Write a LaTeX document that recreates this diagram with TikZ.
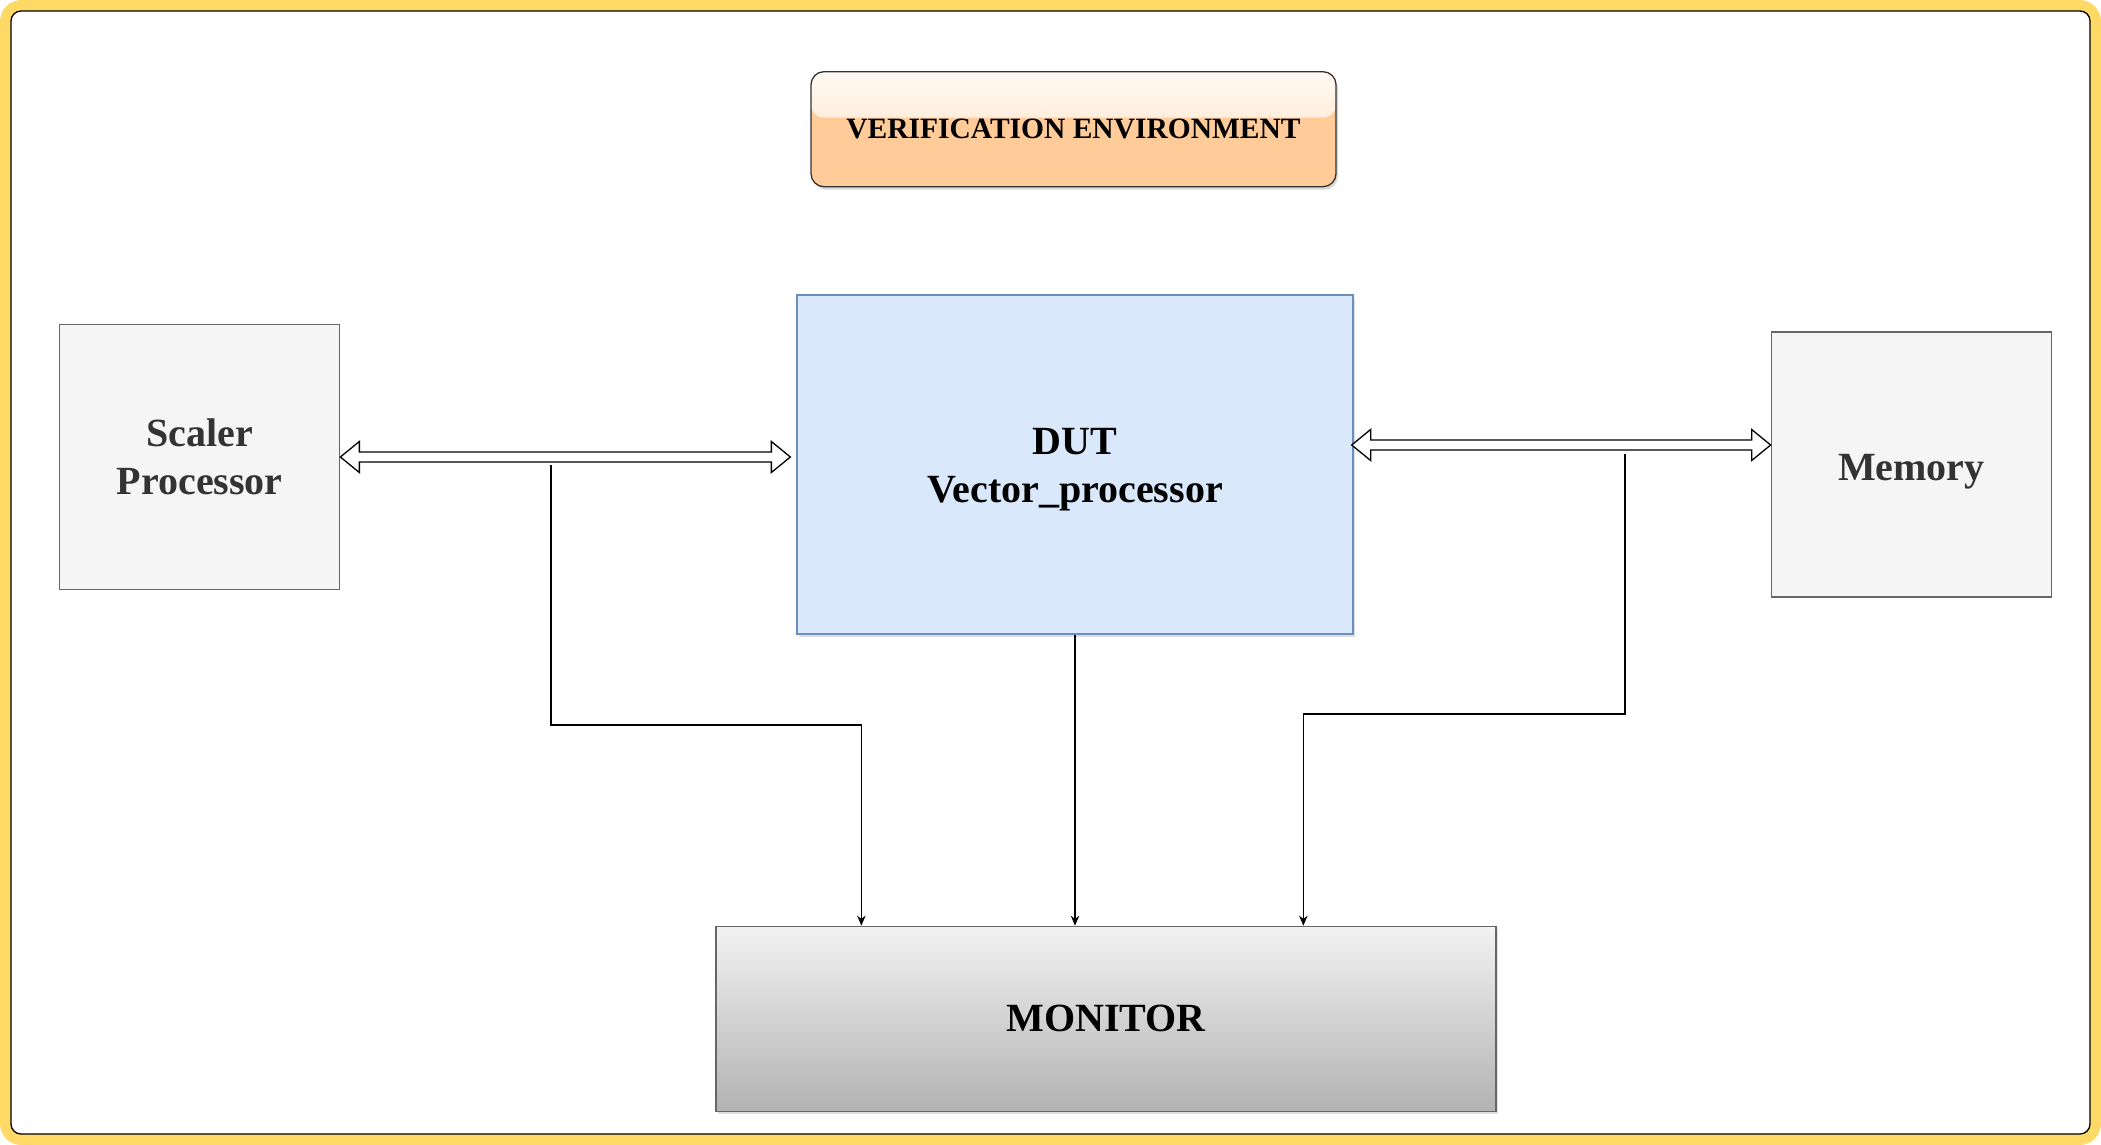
\documentclass[tikz,border=0pt]{standalone}
\usepackage{fontspec}
\setmainfont{Liberation Serif}
\usetikzlibrary{positioning,arrows.meta,shadows,calc}

\definecolor{frameyellow}{HTML}{FFD966}
\definecolor{boxgray}{HTML}{F5F5F5}
\definecolor{boxline}{HTML}{666666}
\definecolor{dutblue}{HTML}{DAE8FC}
\definecolor{dutline}{HTML}{6C8EBF}
\definecolor{titleorange}{HTML}{FFCC99}
\definecolor{textgray}{HTML}{333333}

\newcommand{\blockfont}{\fontsize{40}{48}\selectfont\bfseries}
\newcommand{\bannerfont}{\fontsize{29.5}{34}\selectfont\bfseries}

% two-headed hollow arrow between two points at the same height
\newcommand{\busarrow}[2]{%
  \draw[bus] let \p1=(#1), \p2=(#2) in
    (\x1,\y1) -- ++(19pt,15.5pt) -- ++(0,-10.5pt) -- (\x2-19pt,\y1+5pt)
    -- ++(0,10.5pt) -- (\x2,\y1) -- ++(-19pt,-15.5pt) -- ++(0,10.5pt)
    -- (\x1+19pt,\y1-5pt) -- ++(0,-10.5pt) -- cycle;}

\tikzset{
  frameband/.style={draw=frameyellow, line width=11pt, rounded corners=16pt},
  frameline/.style={draw=black, line width=1.3pt, rounded corners=10pt},
  sidebox/.style={draw=boxline, fill=boxgray, line width=1.3pt, inner sep=0pt,
    minimum width=280pt, minimum height=265pt, align=center,
    text=textgray, font=\blockfont},
  dutbox/.style={draw=dutline, fill=dutblue, line width=1.3pt, inner sep=0pt,
    minimum width=556pt, minimum height=339pt, align=center, font=\blockfont,
    drop shadow={shadow xshift=2pt, shadow yshift=-3pt, opacity=0.25}},
  monbox/.style={draw=boxline, top color=black!5, bottom color=black!30,
    line width=1.3pt, inner sep=0pt, minimum width=780pt, minimum height=185pt,
    font=\blockfont,
    drop shadow={shadow xshift=2pt, shadow yshift=-3pt, opacity=0.25}},
  titlebox/.style={draw=black!80, fill=titleorange, line width=1.3pt,
    rounded corners=13pt, inner sep=0pt, minimum width=525pt,
    minimum height=115pt, font=\bannerfont,
    drop shadow={shadow xshift=2pt, shadow yshift=-3pt, opacity=0.3},
    path picture={\fill[top color=titleorange!12!white,
        bottom color=titleorange!65!white]
      (path picture bounding box.north west) rectangle
      ($(path picture bounding box.east)+(0,-11.5)$);}},
  bus/.style={draw=black, fill=white, line width=1.3pt, line join=miter},
  feed/.style={draw=black, line width=1.3pt, -{Stealth[length=10pt,width=8.5pt]}},
}

\begin{document}
\begin{tikzpicture}[x=1pt, y=-1pt]
  \useasboundingbox (0,0) rectangle (2101,1145);
  \draw[frameband] (5.5,5.5) rectangle (2095.5,1139.5);
  \draw[frameline] (11,11) rectangle (2090,1134);

  \node[dutbox]   (dut)     at (1075,464.5)                     {\rule{0pt}{36.5pt}DUT\\Vector\_processor};
  \node[sidebox]  (scaler)  [left=456pt of dut, yshift=7.5pt]   {Scaler\\Processor};
  \node[sidebox, text height=32pt, text depth=0pt]
                  (memory)  [right=417pt of dut]                {Memory};
  \node[monbox]   (monitor) [below=291pt of dut, xshift=31pt]   {MONITOR};
  \node[titlebox] (title)   [above=107pt of dut, xshift=-1.5pt] {VERIFICATION ENVIRONMENT};

  % buses
  \coordinate (lbus) at ($(dut.west |- scaler.east)+(-6,0)$);
  \coordinate (rbus) at ($(dut.east)+(-2,-19.5)$);
  \busarrow{scaler.east}{lbus}
  \busarrow{rbus}{memory.west |- rbus}

  % taps to the monitor
  \coordinate (ltap) at (551,465);
  \coordinate (rtap) at (1625,454);
  \draw[feed] (ltap) -- ++(0,260) -| ($(monitor.north west)+(146,0)$);
  \draw[feed] (dut.south) -- (dut.south |- monitor.north);
  \draw[feed] (rtap) -- ++(0,260) -| ($(monitor.north west)+(588,0)$);
\end{tikzpicture}
\end{document}
